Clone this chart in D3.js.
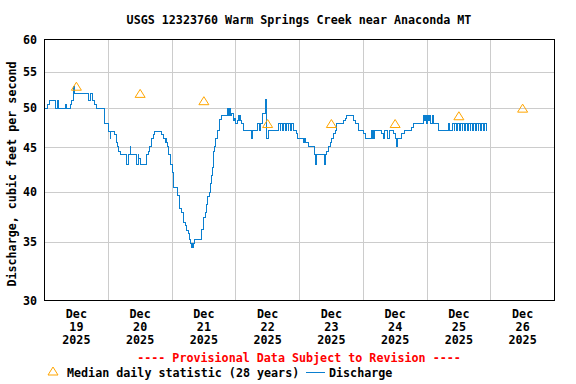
<!DOCTYPE html>
<html>
<head>
<meta charset="utf-8">
<script src="https://cdn.jsdelivr.net/npm/d3@7"></script>
<style>
    body { margin: 0; background: #fff; }
    text { font-family: "DejaVu Sans Mono", monospace; font-weight: bold; font-size: 11.7px; fill: #000; }
</style>
</head>
<body>
<div id="chart"></div>
<script>
// Discharge readings (day of Dec 2025 + time)
var flowTimes = [
    "19 00:00", "19 01:15", "19 01:45", "19 04:00", "19 05:00", "19 05:15", "19 08:00", "19 08:15",
    "19 09:45", "19 10:15", "19 10:45", "19 11:00", "19 11:15", "19 16:30", "19 17:15", "19 18:00",
    "19 18:45", "19 19:30", "19 22:30", "19 22:45",
    "20 00:00", "20 00:45", "20 01:00", "20 02:30", "20 03:00", "20 03:30", "20 03:45", "20 04:30",
    "20 07:00", "20 07:30", "20 07:45", "20 08:15", "20 08:30", "20 10:45", "20 11:15", "20 11:30",
    "20 12:00", "20 14:15", "20 15:00", "20 15:30", "20 16:15", "20 17:00", "20 17:15", "20 20:00",
    "20 20:45", "20 21:30", "20 21:45", "20 22:00", "20 22:15", "20 22:30", "20 23:15",
    "21 00:00", "21 00:15", "21 00:30", "21 00:45", "21 02:00", "21 02:45", "21 03:00", "21 03:45",
    "21 04:30", "21 05:00", "21 05:30", "21 06:15", "21 06:30", "21 07:00", "21 07:15", "21 07:30",
    "21 07:45", "21 08:00", "21 08:30", "21 11:15", "21 12:00", "21 12:30", "21 13:00", "21 13:30",
    "21 14:00", "21 14:30", "21 14:45", "21 15:15", "21 15:45", "21 16:00", "21 16:30", "21 17:15",
    "21 17:45", "21 18:00", "21 18:30", "21 20:45", "21 21:00", "21 21:15", "21 21:30", "21 21:45",
    "21 22:00", "21 22:30", "21 23:00", "21 23:15", "21 23:30", "21 23:45",
    "22 00:00", "22 00:30", "22 01:00", "22 01:15", "22 01:30", "22 01:45", "22 02:15", "22 02:45",
    "22 06:00", "22 06:15", "22 08:15", "22 09:00", "22 09:30", "22 10:15", "22 11:15", "22 11:30",
    "22 12:15", "22 16:15", "22 16:45", "22 17:00", "22 17:45", "22 18:00", "22 18:45", "22 19:00",
    "22 19:45", "22 20:00", "22 20:45", "22 21:00", "22 21:45",
    "22 22:45", "22 23:15",
    "23 01:30", "23 01:45", "23 02:15", "23 03:00", "23 03:30", "23 05:30", "23 06:00", "23 06:15",
    "23 09:30", "23 09:45", "23 10:15", "23 11:00", "23 11:30", "23 12:00", "23 12:45", "23 13:30",
    "23 14:00", "23 16:30", "23 17:15", "23 17:45", "23 20:30", "23 21:15", "23 22:15",
    "24 00:00", "24 00:45", "24 03:15", "24 03:30", "24 03:45", "24 04:00", "24 04:15", "24 07:00",
    "24 07:30", "24 08:00", "24 09:00", "24 10:00", "24 11:30", "24 12:15", "24 12:30", "24 13:00",
    "24 14:30", "24 15:30", "24 18:15", "24 19:00", "24 22:45", "24 23:00", "24 23:30", "24 23:45",
    "25 00:15", "25 00:30", "25 01:00", "25 01:30", "25 02:00", "25 02:30", "25 04:15", "25 08:00",
    "25 08:30", "25 09:30", "25 10:15", "25 10:30", "25 11:15", "25 11:30", "25 12:15", "25 12:30",
    "25 13:15", "25 13:30", "25 14:15", "25 14:30", "25 15:15", "25 15:30", "25 16:15", "25 16:30",
    "25 17:15", "25 17:30", "25 18:15", "25 18:30", "25 19:15", "25 19:30", "25 20:15", "25 20:30",
    "25 21:15", "25 21:30", "25 22:15", "25 22:30"
];
var flowValues = [
    50, 50.5, 51, 50, 51, 50, 50.5, 50,
    50.5, 51, 52, 53, 52, 51, 52, 51,
    50.5, 50, 48.5, 48,
    47, 46.1, 47, 46.6, 45.7, 45.1, 44.6, 44.2,
    43.1, 43.7, 44.2, 45.1, 44.2, 43.1, 44.2, 43.7,
    43.1, 44.2, 44.6, 45.1, 46.1, 46.6, 47, 46.6,
    46.1, 45.7, 46.1, 45.7, 45.1, 44.2, 43.1,
    42.7, 42.2, 40.9, 40.5, 39.7, 38.7, 38.3, 37.9,
    36.9, 36.6, 36.1, 35.8, 35.3, 34.9, 34.5, 34.9,
    34.5, 34.9, 35.3, 36.2, 37.4, 37.9, 38.7, 39.5,
    40, 40.9, 41.8, 42.7, 44.6, 45.1, 46.1, 47.1,
    48, 48.5, 49, 50, 49, 50, 49, 50,
    49, 49.3, 48.7, 48.4, 48.7, 48.4,
    48, 48.4, 49, 48.4, 49, 48.4, 48, 47.1,
    46.1, 47.1, 48, 47.1, 48, 49.3, 51.1, 46.1,
    47.1, 48, 47.1, 48, 47.1, 48, 47.1, 48,
    47.1, 48, 47.1, 48, 47.1,
    46.7, 46.1,
    45.7, 46.1, 45.7, 45.7, 45.2, 44.2, 43.1, 44.2,
    43.1, 44.2, 44.6, 45.2, 45.7, 46.1, 46.7, 47.1,
    48, 48.4, 48.7, 49, 48.4, 48, 47.1,
    46.7, 46.1, 47.1, 46.1, 47.1, 46.1, 47.1, 46.7,
    46.1, 47.1, 46.1, 47.1, 46.7, 46.1, 45.2, 46.1,
    46.7, 47.1, 47.5, 48, 49, 48.4, 49, 48,
    49, 48.4, 49, 48, 49, 48, 47.1, 48,
    47.1, 48, 47.1, 48, 47.1, 48, 47.1, 48,
    47.1, 48, 47.1, 48, 47.1, 48, 47.1, 48,
    47.1, 48, 47.1, 48, 47.1, 48, 47.1, 48,
    47.1, 48, 47.1, 47.1
];

// Median daily statistic (28 years), plotted at noon
var medianDays = ["19", "20", "21", "22", "23", "24", "25", "26"];
var medianValues = [53, 52, 51, 48, 48, 48, 49, 50];

var yTicks = [30, 35, 40, 45, 50, 55, 60];
var dayLabels = ["19", "20", "21", "22", "23", "24", "25", "26"];

var parseTime = d3.timeParse("%Y-%m-%d %H:%M");
var flowData = flowTimes.map((t, i) => ({ time: parseTime("2025-12-" + t), value: flowValues[i] }));
var medianData = medianDays.map((d, i) => ({ time: parseTime("2025-12-" + d + " 12:00"), value: medianValues[i] }));

var width = 576, height = 384;
var plot = { left: 44.5, right: 554.5, top: 39.5, bottom: 300.5 };

var svg = d3.select("#chart").append("svg")
    .attr("width", width)
    .attr("height", height);

var x = d3.scaleTime()
    .domain([parseTime("2025-12-19 00:00"), parseTime("2025-12-27 00:00")])
    .range([plot.left, plot.right]);
var y = d3.scaleLog()
    .domain([30, 60])
    .range([plot.bottom, plot.top]);

// Title
svg.append("text")
    .attr("x", 299).attr("y", 24)
    .attr("text-anchor", "middle")
    .text("USGS 12323760 Warm Springs Creek near Anaconda MT");

// Grid lines
var crisp = v => Math.round(v - 0.5) + 0.5;
svg.append("g").selectAll("line")
    .data(yTicks.slice(1, -1))
    .join("line")
    .attr("x1", plot.left).attr("x2", plot.right)
    .attr("y1", d => crisp(y(d))).attr("y2", d => crisp(y(d)))
    .attr("stroke", "#cccccc");
svg.append("g").selectAll("line")
    .data(d3.timeDay.range(parseTime("2025-12-20 00:00"), parseTime("2025-12-27 00:00")))
    .join("line")
    .attr("x1", d => crisp(x(d))).attr("x2", d => crisp(x(d)))
    .attr("y1", plot.top).attr("y2", plot.bottom)
    .attr("stroke", "#cccccc");

// Y tick labels
svg.append("g").selectAll("text")
    .data(yTicks)
    .join("text")
    .attr("x", 37)
    .attr("y", d => y(d) + 4)
    .attr("text-anchor", "end")
    .text(d => d);

// Y axis label
svg.append("text")
    .attr("transform", "translate(16," + 174 + ") rotate(-90)")
    .attr("text-anchor", "middle")
    .text("Discharge, cubic feet per second");

// X tick labels (three lines, centred at noon)
var xLab = svg.append("g").selectAll("g")
    .data(dayLabels)
    .join("g")
    .attr("transform", d => "translate(" + x(parseTime("2025-12-" + d + " 12:00")) + ",0)");
xLab.append("text").attr("y", 318).attr("text-anchor", "middle").text("Dec");
xLab.append("text").attr("y", 331).attr("text-anchor", "middle").text(d => d);
xLab.append("text").attr("y", 344).attr("text-anchor", "middle").text("2025");

// Discharge line
var line = d3.line()
    .x(d => x(d.time))
    .y(d => y(d.value))
    .curve(d3.curveStepAfter);
svg.append("path")
    .attr("d", line(flowData))
    .attr("fill", "none")
    .attr("stroke", "#0a7fd0")
    .attr("stroke-width", 1)
    .attr("shape-rendering", "crispEdges");

// Median triangles
function triangle(cx, cy) {
    return "M" + (cx - 5) + "," + (cy + 4) + "L" + cx + "," + (cy - 4) + "L" + (cx + 5) + "," + (cy + 4) + "Z";
}
svg.append("g").selectAll("path")
    .data(medianData)
    .join("path")
    .attr("d", d => triangle(x(d.time), y(d.value)))
    .attr("fill", "none")
    .attr("stroke", "#ffa500")
    .attr("stroke-width", 1);

// Frame
svg.append("rect")
    .attr("x", plot.left).attr("y", plot.top)
    .attr("width", plot.right - plot.left)
    .attr("height", plot.bottom - plot.top)
    .attr("fill", "none")
    .attr("stroke", "#000");

// Provisional note
svg.append("text")
    .attr("x", 299).attr("y", 362)
    .attr("text-anchor", "middle")
    .style("fill", "#ff0000")
    .text("---- Provisional Data Subject to Revision ----");

// Legend
svg.append("path")
    .attr("d", triangle(53, 371))
    .attr("fill", "none")
    .attr("stroke", "#ffa500");
svg.append("text").attr("x", 67).attr("y", 377).text("Median daily statistic (28 years)");
svg.append("line")
    .attr("x1", 306).attr("x2", 325)
    .attr("y1", 372.5).attr("y2", 372.5)
    .attr("stroke", "#0a7fd0");
svg.append("text").attr("x", 329).attr("y", 377).text("Discharge");
</script>
</body>
</html>
